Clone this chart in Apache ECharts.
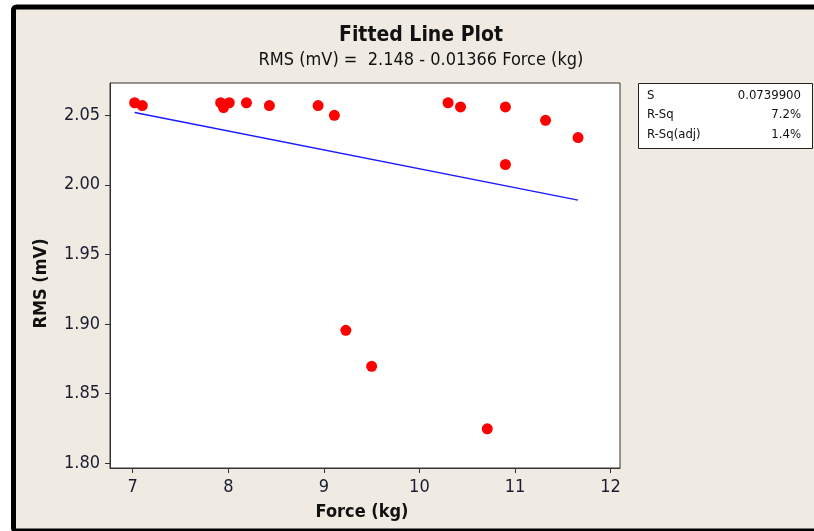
<!DOCTYPE html>
<html>
<head>
<meta charset="utf-8">
<script src="https://cdn.jsdelivr.net/npm/echarts@6/dist/echarts.min.js"></script>
<style>
  html, body { margin: 0; padding: 0; background: #fff; }
  #chart { width: 814px; height: 531px; }
</style>
</head>
<body>
<div id="chart"></div>
<script>
const force = [7.02, 7.10, 7.92, 7.95, 8.01, 8.19, 8.43, 8.94, 9.11, 9.23, 9.50, 10.30, 10.43, 10.71, 10.90, 10.90, 11.32, 11.66]
const rms = [2.059, 2.057, 2.059, 2.0555, 2.059, 2.059, 2.057, 2.057, 2.050, 1.8954, 1.8695, 2.059, 2.056, 1.8246, 2.056, 2.0146, 2.0464, 2.034]

// fitted line ends
const fitX = [7.02, 11.66]
const fitY = [2.052, 1.989]

const xTicks = [7, 8, 9, 10, 11, 12]
const yTicks = [1.80, 1.85, 1.90, 1.95, 2.00, 2.05]

const statNames = ['S', 'R-Sq', 'R-Sq(adj)']
const statValues = ['0.0739900', '7.2%', '1.4%']

const FONT = '"DejaVu Sans Condensed", "DejaVu Sans", sans-serif'

const chart = echarts.init(document.getElementById('chart'))

const statText = []
statNames.forEach((n, i) => {
  statText.push({
    type: 'text', left: 647, top: 89 + i * 19.5,
    style: { text: n, fontFamily: FONT, fontSize: 13, fill: '#111' }
  })
  statText.push({
    type: 'text', right: 13, top: 89 + i * 19.5,
    style: { text: statValues[i], fontFamily: FONT, fontSize: 13, fill: '#111', align: 'right' }
  })
})

const option = {
  backgroundColor: '#fff',
  animation: false,
  title: [
    {
      text: 'Fitted Line Plot',
      left: 416, top: 20, textAlign: 'center',
      textStyle: { fontFamily: FONT, fontSize: 21, fontWeight: 'bold', color: '#111' }
    },
    {
      text: 'RMS (mV) =  2.148 - 0.01366 Force (kg)',
      left: 416, top: 46, textAlign: 'center',
      textStyle: { fontFamily: FONT, fontSize: 18, fontWeight: 'normal', color: '#111' }
    }
  ],
  graphic: [
    {
      type: 'rect', z: -10, silent: true,
      shape: { x: 13.5, y: 7, width: 830, height: 524, r: 3 },
      style: { fill: '#EFEBE2', stroke: '#000', lineWidth: 5 }
    },
    {
      type: 'rect', silent: true,
      shape: { x: 638.5, y: 83.5, width: 174, height: 65 },
      style: { fill: '#fff', stroke: '#222', lineWidth: 1 }
    },
    ...statText
  ],
  grid: {
    left: 110, top: 83, width: 510, height: 385,
    show: true, backgroundColor: '#fff', borderColor: '#333', borderWidth: 1
  },
  xAxis: {
    type: 'value',
    min: 6.762, max: 12.099,
    name: 'Force (kg)',
    nameLocation: 'middle',
    nameGap: 35,
    nameTextStyle: { fontFamily: FONT, fontSize: 18, fontWeight: 'bold', color: '#111', padding: [0, 6, 0, 0] },
    axisLine: { lineStyle: { color: '#333' } },
    axisTick: { length: 5, lineStyle: { color: '#333' }, customValues: xTicks },
    axisLabel: {
      customValues: xTicks, margin: 10,
      fontFamily: FONT, fontSize: 18, color: '#1c1c30'
    },
    splitLine: { show: false }
  },
  yAxis: {
    type: 'value',
    min: 1.7964, max: 2.0732,
    name: 'RMS (mV)',
    nameLocation: 'middle',
    nameGap: 60,
    nameTextStyle: { fontFamily: FONT, fontSize: 18, fontWeight: 'bold', color: '#111', padding: [0, 16, 0, 0] },
    axisLine: { show: true, lineStyle: { color: '#333' } },
    axisTick: { show: true, length: 5, lineStyle: { color: '#333' }, customValues: yTicks },
    axisLabel: {
      customValues: yTicks, margin: 10,
      fontFamily: FONT, fontSize: 18, color: '#1c1c30',
      formatter: v => v.toFixed(2)
    },
    splitLine: { show: false }
  },
  series: [
    {
      type: 'line',
      data: fitX.map((x, i) => [x, fitY[i]]),
      symbol: 'none',
      lineStyle: { color: '#1a1aff', width: 1.4 },
      z: 2
    },
    {
      type: 'scatter',
      data: force.map((x, i) => [x, rms[i]]),
      symbol: 'circle',
      symbolSize: 11,
      itemStyle: { color: '#ff0000', opacity: 1 },
      z: 3
    }
  ]
}

chart.setOption(option)
</script>
</body>
</html>
